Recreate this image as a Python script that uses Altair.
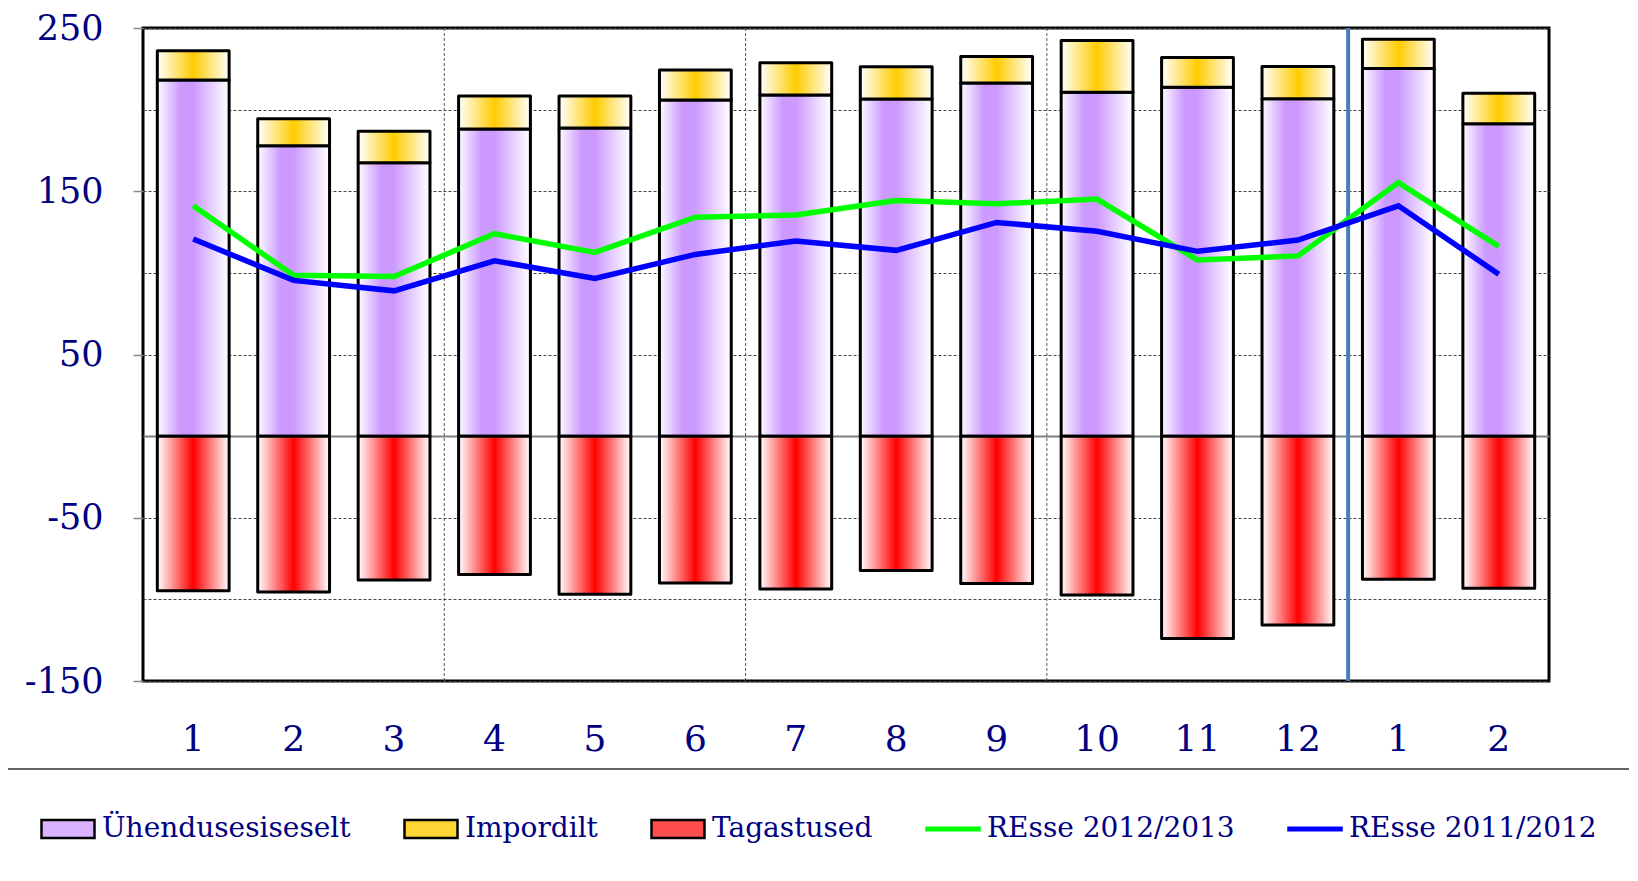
import altair as alt
import pandas as pd

# ---- data ----
months = ["1", "2", "3", "4", "5", "6", "7", "8", "9", "10", "11", "12", "1", "2"]
years = [2012] * 12 + [2013] * 2
intra_eu = [218.1, 177.8, 167.5, 188.1, 188.7, 205.9, 209.0, 206.5, 216.3, 210.6, 213.7, 206.6, 225.2, 191.4]
imports = [17.9, 16.6, 19.2, 20.2, 19.6, 18.4, 19.7, 19.8, 16.2, 31.8, 18.2, 19.8, 17.9, 18.6]
returns = [-94.7, -95.5, -88.2, -84.8, -96.9, -89.9, -93.7, -82.3, -90.2, -97.3, -124.0, -115.7, -87.6, -93.2]
resse_1213 = [141.1, 98.5, 97.8, 124.0, 112.5, 134.1, 135.4, 144.3, 142.3, 145.2, 107.9, 110.4, 155.3, 116.2]
resse_1112 = [120.8, 95.4, 89.0, 107.4, 96.6, 111.3, 119.5, 113.8, 130.9, 125.5, 113.2, 120.1, 141.1, 99.2]

legend_names = ["Ühendusesiseselt", "Impordilt", "Tagastused", "REsse 2012/2013", "REsse 2011/2012"]
legend_fill = ["#D9B3FF", "#FFD633", "#FF4D4D", "#00FF00", "#0000FF"]
legend_stroke = ["#000000", "#000000", "#000000", "#00FF00", "#0000FF"]

# category boundaries that carry a vertical line (line drawn before that month)
quarter_breaks = ["2012-4", "2012-7", "2012-10"]
year_breaks = ["2013-1"]

keys = [f"{y}-{m}" for y, m in zip(years, months)]
df = pd.DataFrame({
    "key": keys,
    "eu": intra_eu,
    "imp": imports,
    "ret": returns,
    "g": resse_1213,
    "b": resse_1112,
})
df["top"] = df["eu"] + df["imp"]
df["zero"] = 0.0

NAVY = "#000080"
FONT = "DejaVu Serif"
PAD_INNER = 0.285
PLOT_W, PLOT_H = 1406, 653
STEP = PLOT_W / len(keys)

x_axis = alt.Axis(
    title=None, labelExpr="split(datum.value, '-')[1]", labelAngle=0,
    labelFont=FONT, labelFontSize=36, labelColor=NAVY, labelPadding=41,
    ticks=False, domain=False, grid=False,
)
x_scale = alt.Scale(paddingInner=PAD_INNER, paddingOuter=PAD_INNER / 2)
x = alt.X("key:N", sort=keys, scale=x_scale, axis=x_axis, title=None)
x_edge = alt.X("key:N", sort=keys, scale=x_scale, axis=x_axis, title=None, bandPosition=0)

y_scale = alt.Scale(domain=[-150, 250], nice=False, zero=False)
y_axis = alt.Axis(
    title=None, values=[-150, -100, -50, 0, 50, 100, 150, 200, 250],
    labelExpr="datum.value % 100 !== 0 ? toString(datum.value) : ''",
    labelFont=FONT, labelFontSize=35, labelColor=NAVY, labelPadding=30,
    domain=False, tickSize=10, tickColor="#888888", tickWidth=1.5,
    tickOpacity={"condition": {"test": "datum.value % 100 === 0", "value": 0}, "value": 1},
    grid=True,
    gridDash={"condition": {"test": "datum.value === 0", "value": []}, "value": [3, 2]},
    gridColor={"condition": {"test": "datum.value === 0", "value": "#808080"}, "value": "#444444"},
    gridWidth={"condition": {"test": "datum.value === 0", "value": 2}, "value": 1},
)


def Y(field):
    return alt.Y(field, type="quantitative", scale=y_scale, axis=y_axis, title=None)


def grad(stops):
    return alt.Gradient(
        gradient="linear",
        stops=[alt.GradientStop(offset=o, color=c) for o, c in stops],
        x1=0, x2=1, y1=0, y2=0,
    )


purple = grad([(0, "#FDFCFF"), (0.32, "#CC99FF"), (0.5, "#CC99FF"), (0.95, "#FAF7FF"), (1, "#FAF7FF")])
orange = grad([(0, "#FFFFFF"), (0.5, "#FFCC00"), (1, "#FFFFFF")])
red = grad([(0, "#FFFFFF"), (0.5, "#FF0000"), (1, "#FFFFFF")])

base = alt.Chart(df)
bar_kw = dict(stroke="black", strokeWidth=3, strokeJoin="round")

# vertical separators between month groups (midway in the gap before the month)
gap_offset = -PAD_INNER * STEP / 2
q_rules = alt.Chart(pd.DataFrame({"key": quarter_breaks})).mark_rule(
    color="#555555", strokeWidth=1, strokeDash=[3, 2], xOffset=gap_offset
).encode(x=x_edge)
y_rules = alt.Chart(pd.DataFrame({"key": year_breaks})).mark_rule(
    color="#4A7EBB", strokeWidth=4, xOffset=gap_offset
).encode(x=x_edge)

eu_bars = base.mark_bar(fill=purple, **bar_kw).encode(x=x, y=Y("zero"), y2=alt.Y2("eu"))
imp_bars = base.mark_bar(fill=orange, **bar_kw).encode(x=x, y=Y("eu"), y2=alt.Y2("top"))
ret_bars = base.mark_bar(fill=red, **bar_kw).encode(x=x, y=Y("ret"), y2=alt.Y2("zero"))

green_line = base.mark_line(color="#00FF00", strokeWidth=5.5).encode(x=x, y=Y("g"))
blue_line = base.mark_line(color="#0000FF", strokeWidth=5.5).encode(x=x, y=Y("b"))

# separator line between plot and legend
sep = alt.Chart(alt.Data(values=[{}])).mark_rule(color="#666666", strokeWidth=2).encode(
    x=alt.value(-143), x2=alt.value(1500), y=alt.value(PLOT_H + 88)
)

rect_path = "M-1,-0.34L1,-0.34L1,0.34L-1,0.34Z"
line_path = "M-1,-0.05L1,-0.05L1,0.05L-1,0.05Z"
leg = alt.Legend(
    title=None, orient="none", legendX=-103, legendY=PLOT_H + 119.5, direction="horizontal",
    columns=5, columnPadding=48, symbolSize=2809, symbolStrokeWidth=2.5, symbolOpacity=1,
    labelFont=FONT, labelFontSize=28, labelColor=NAVY, labelOffset=6, labelLimit=0, padding=0,
)
legend_df = pd.DataFrame({"series": legend_names})
legend_layer = alt.Chart(legend_df).mark_point(filled=True, opacity=0).encode(
    fill=alt.Fill("series:N", sort=legend_names, scale=alt.Scale(domain=legend_names, range=legend_fill), legend=leg),
    stroke=alt.Stroke("series:N", sort=legend_names, scale=alt.Scale(domain=legend_names, range=legend_stroke), legend=leg),
    shape=alt.Shape("series:N", sort=legend_names,
                    scale=alt.Scale(domain=legend_names, range=[rect_path, rect_path, rect_path, line_path, line_path]),
                    legend=leg),
)

chart = alt.layer(q_rules, y_rules, eu_bars, imp_bars, ret_bars, green_line, blue_line, sep, legend_layer).properties(
    width=PLOT_W, height=PLOT_H,
    autosize=alt.AutoSizeParams(type="none"),
    padding={"left": 135, "top": 20, "right": 80, "bottom": 190},
).configure(font=FONT).configure_view(stroke="black", strokeWidth=3)

chart.save("out.html", embed_options={"renderer": "svg", "actions": False})
